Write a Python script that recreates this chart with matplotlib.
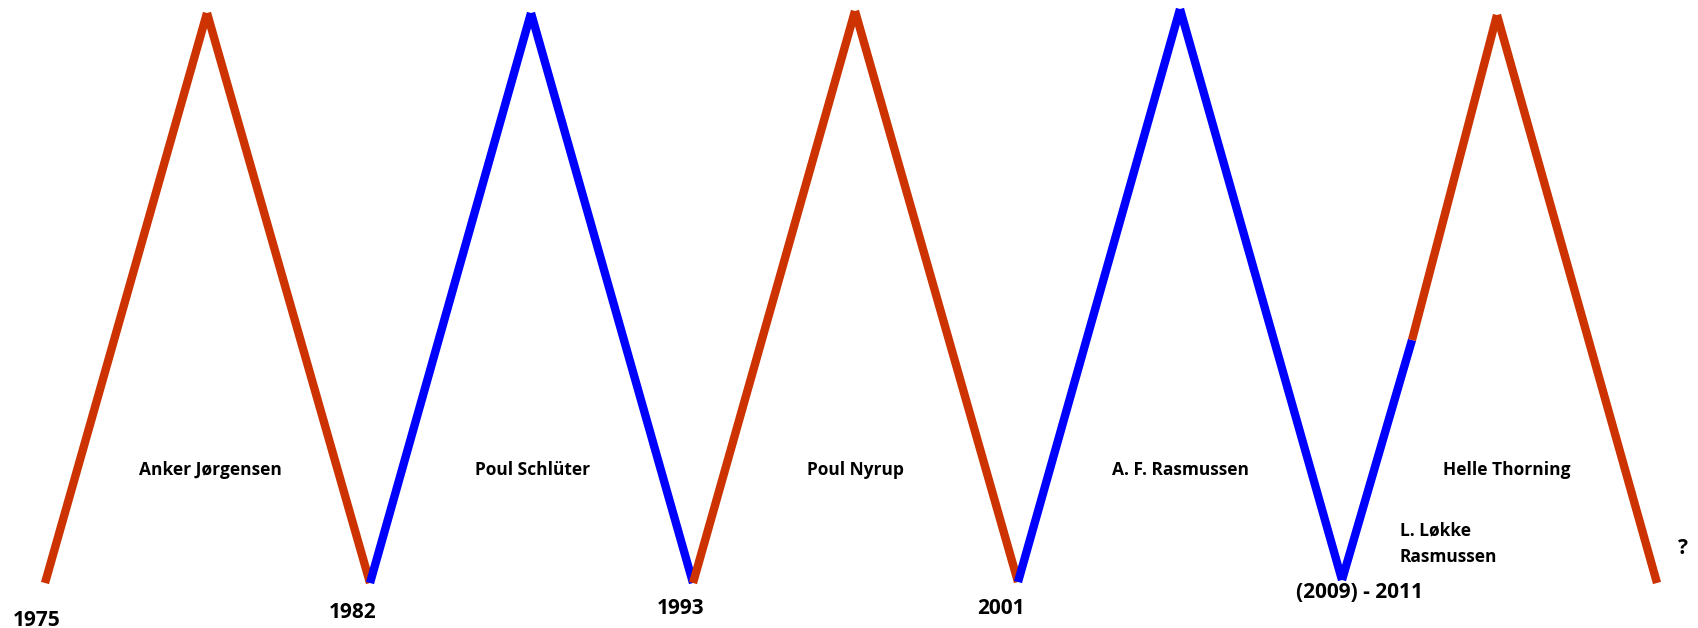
import matplotlib.pyplot as plt

# zigzag vertices (pixel-like coordinates, y grows downwards)
xs = [45, 207, 370, 531, 693, 855, 1018, 1180, 1342, 1412, 1497, 1657]
ys = [583, 13, 583, 13, 583, 11, 582, 9, 580, 340, 15, 583]
seg_party = ['S', 'S', 'V', 'V', 'S', 'S', 'V', 'V', 'V', 'S', 'S']
party_color = {'S': '#cc3300', 'V': '#0000ff'}

years = ['1975', '1982', '1993', '2001', '(2009) - 2011']
year_x = [37, 353, 681, 1001, 1360]
year_y = [620, 612, 608, 608, 592]

names = ['Anker Jørgensen', 'Poul Schlüter', 'Poul Nyrup', 'A. F. Rasmussen', 'Helle Thorning']
name_x = [210, 533, 855, 1181, 1507]

fig = plt.figure(figsize=(16.98, 6.28), dpi=100)
ax = fig.add_axes([0, 0, 1, 1])
ax.set_xlim(0, 1698)
ax.set_ylim(628, 0)
ax.axis('off')

plt.rcParams['font.family'] = ['Open Sans', 'DejaVu Sans']

for i, p in enumerate(seg_party):
    ax.plot(xs[i:i+2], ys[i:i+2], c=party_color[p], lw=6, solid_capstyle='butt')

for t, x, y in zip(years, year_x, year_y):
    ax.text(x, y, t, fontsize=15, fontweight='bold', ha='center', va='center')

for t, x in zip(names, name_x):
    ax.text(x, 470, t, fontsize=12.5, fontweight='bold', ha='center', va='center')

ax.text(1400, 531, 'L. Løkke', fontsize=12.5, fontweight='bold', ha='left', va='center')
ax.text(1400, 557, 'Rasmussen', fontsize=12.5, fontweight='bold', ha='left', va='center')
ax.text(1683, 549, '?', fontsize=15, fontweight='bold', ha='center', va='center')

plt.savefig('out.png', dpi=100)
